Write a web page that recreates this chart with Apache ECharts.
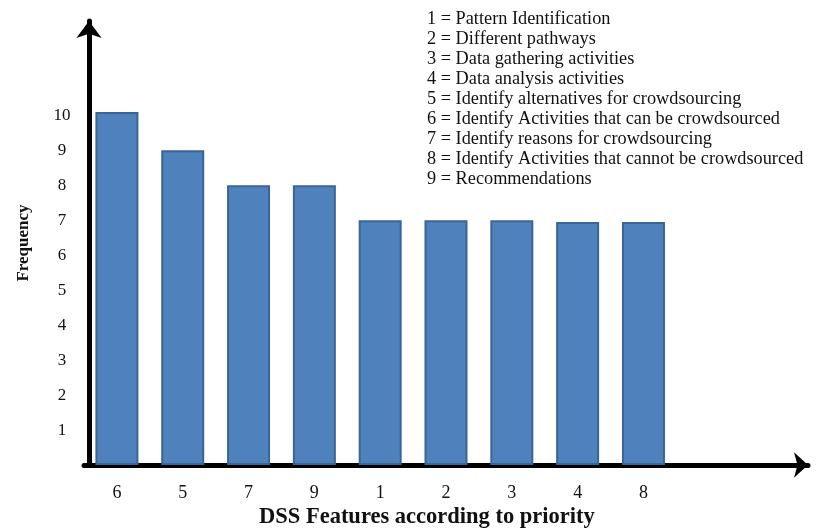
<!DOCTYPE html>
<html><head><meta charset="utf-8">
<script src="https://cdn.jsdelivr.net/npm/echarts@6/dist/echarts.min.js"></script>
<style>html,body{margin:0;padding:0;background:#fff}#c{width:816px;height:532px}</style>
</head><body><div id="c"></div>
<script>
const categories = ['6','5','7','9','1','2','3','4','8'];
const frequency = [10.1, 9, 8, 8, 7, 7, 7, 6.95, 6.95];
const yTicks = [1,2,3,4,5,6,7,8,9,10];
const legendLines = [
  '1 = Pattern Identification',
  '2 = Different pathways',
  '3 = Data gathering activities',
  '4 = Data analysis activities',
  '5 = Identify alternatives for crowdsourcing',
  '6 = Identify Activities that can be crowdsourced',
  '7 = Identify reasons for crowdsourcing',
  '8 = Identify Activities that cannot be crowdsourced',
  '9 = Recommendations'
];
const xTitle = 'DSS Features according to priority';
const yTitle = 'Frequency';

const font = '"Liberation Serif", "Times New Roman", serif';
const xCats = categories.concat(['', '']);

const chart = echarts.init(document.getElementById('c'));
chart.setOption({
  animation: false,
  textStyle: { fontFamily: font },
  title: {
    text: xTitle, left: 259, top: 506, padding: 0,
    textStyle: { fontFamily: font, fontWeight: 'bold', fontSize: 22.5, color: '#111' }
  },
  grid: { left: 84, right: 8, top: 21, bottom: 67, containLabel: false },
  xAxis: {
    type: 'category', data: xCats,
    axisLine: { lineStyle: { color: '#000', width: 5 }, symbol: ['none', 'arrow'], symbolSize: [19, 14] },
    axisTick: { show: false },
    axisLabel: { fontFamily: font, fontSize: 18, color: '#111', margin: 19 }
  },
  yAxis: {
    type: 'value', min: 0, max: 12.7, interval: 1, offset: -5,
    name: yTitle, nameLocation: 'middle', nameGap: 57,
    nameTextStyle: { fontFamily: font, fontWeight: 'bold', fontSize: 17, color: '#111' },
    axisLine: { show: true, lineStyle: { color: '#000', width: 5 }, symbol: ['none', 'arrow'], symbolSize: [19, 17] },
    axisTick: { show: false },
    splitLine: { show: false },
    axisLabel: {
      fontFamily: font, fontSize: 17, color: '#111', margin: 27, align: 'center',
      formatter: v => yTicks.indexOf(v) >= 0 ? String(v) : ''
    }
  },
  series: [{
    type: 'bar', data: frequency, barWidth: 43,
    itemStyle: { color: '#4f81bd', borderColor: '#3a6594', borderWidth: 2 }
  }],
  graphic: [{
    type: 'text', left: 427, top: 9,
    style: {
      text: legendLines.join('\n'), font: '18.3px ' + font, fill: '#111', lineHeight: 20
    }
  }]
});
</script></body></html>
